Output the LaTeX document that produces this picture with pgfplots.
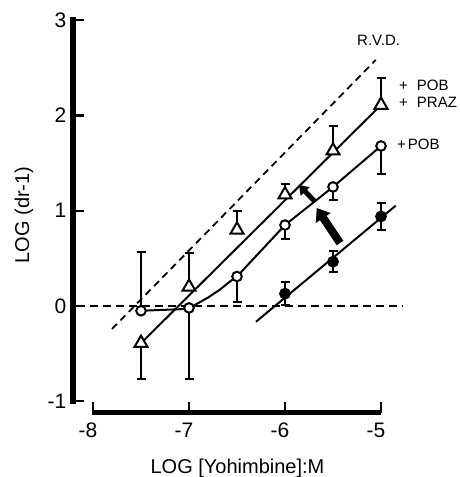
\documentclass[border=0pt]{standalone}
\usepackage{fontspec}
\setmainfont{Liberation Sans}
\usepackage{pgfplots}
\pgfplotsset{compat=1.18}
\usetikzlibrary{arrows.meta}
\begin{document}
\begin{tikzpicture}
\begin{axis}[
  x=96pt, y=95.25pt,
  xmin=-8.21, xmax=-5, ymin=-1.12, ymax=3,
  axis x line*=bottom, axis y line*=left,
  axis line style={draw=none},
  xtick={-8,-7,-6,-5}, xticklabels={-8,-7,-6,-5},
  ytick={-1,0,1,2,3}, yticklabels={-1,0,1,2,3},
  tick align=inside,
  major tick length=11pt,
  tick style={line width=2.2pt, black},
  ticklabel style={font=\fontsize{21}{24}\selectfont},
  xticklabel style={yshift=-7pt, xshift=-5pt},
  yticklabel style={xshift=-3pt},
  clip=false,
]
% axis frame lines
\draw[line width=6.5pt, line cap=rect] (axis cs:-8.21,3) -- (axis cs:-8.21,-0.99);
\draw[line width=5.5pt, line cap=butt] (axis cs:-8.01,-1.12) -- (axis cs:-4.995,-1.12);
% dashed reference lines
\addplot[black, line width=1.8pt, dash pattern=on 8pt off 5pt] coordinates {(-8.167,0) (-4.771,0)};
\addplot[black, line width=1.8pt, dash pattern=on 7pt off 5pt] coordinates {(-7.802,-0.241) (-5.055,2.583)};
% fitted lines
\addplot[black, line width=2pt] coordinates {(-7.5,-0.39) (-5,2.11)};
\addplot[black, line width=2pt] coordinates {(-7.5,-0.05) (-7.0,-0.03) (-6.94,0.01) (-6.8,0.09) (-6.68,0.17) (-6.57,0.26) (-6.5,0.31) (-6,0.85) (-5.5,1.25) (-5,1.68)};
\addplot[black, line width=2pt] coordinates {(-6.302,-0.165) (-4.847,1.053)};
% error bars: triangles (+POB +PRAZ)
\addplot[draw=none, forget plot, error bars/.cd, y dir=plus, y explicit,
  error bar style={draw=black, solid, line width=2pt},
  error mark options={draw=black, rotate=90, line width=2pt, mark size=4.5pt}]
  coordinates {(-7,0.20) +- (0,0.36) (-6.5,0.80) +- (0,0.20) (-6,1.17) +- (0,0.11) (-5.5,1.63) +- (0,0.26) (-5,2.11) +- (0,0.28)};
\addplot[draw=none, forget plot, error bars/.cd, y dir=minus, y explicit,
  error bar style={draw=black, solid, line width=2pt},
  error mark options={draw=black, rotate=90, line width=2pt, mark size=4.5pt}]
  coordinates {(-7.5,-0.39) +- (0,0.38)};
% error bars: open circles (+POB)
\addplot[draw=none, forget plot, error bars/.cd, y dir=plus, y explicit,
  error bar style={draw=black, solid, line width=2pt},
  error mark options={draw=black, rotate=90, line width=2pt, mark size=4.5pt}]
  coordinates {(-7.5,-0.05) +- (0,0.62)};
\addplot[draw=none, forget plot, error bars/.cd, y dir=minus, y explicit,
  error bar style={draw=black, solid, line width=2pt},
  error mark options={draw=black, rotate=90, line width=2pt, mark size=4.5pt}]
  coordinates {(-7,-0.02) +- (0,0.75) (-6.5,0.31) +- (0,0.27) (-6,0.85) +- (0,0.15) (-5.5,1.25) +- (0,0.14) (-5,1.68) +- (0,0.29)};
% error bars: filled circles (control)
\addplot[draw=none, forget plot, error bars/.cd, y dir=both, y explicit,
  error bar style={draw=black, solid, line width=2pt},
  error mark options={draw=black, rotate=90, line width=2pt, mark size=4.5pt}]
  coordinates {(-6,0.13) +- (0,0.12) (-5.5,0.465) +- (0,0.11) (-5,0.94) +- (0,0.145)};
% markers
\addplot[only marks, mark=triangle*, mark size=7.5pt, mark options={fill=white, draw=black, line width=2pt, solid}]
  coordinates {(-7.5,-0.39) (-7,0.20) (-6.5,0.80) (-6,1.17) (-5.5,1.63) (-5,2.11)};
\addplot[only marks, mark=*, mark size=4.8pt, mark options={fill=white, draw=black, line width=2pt, solid}]
  coordinates {(-7.5,-0.05) (-7,-0.02) (-6.5,0.31) (-6,0.85) (-5.5,1.25) (-5,1.68)};
\addplot[only marks, mark=*, mark size=5.5pt, mark options={fill=black, draw=black, line width=0.8pt, solid}]
  coordinates {(-6,0.13) (-5.5,0.465) (-5,0.94)};
% arrows
\draw[line width=5pt, -{Triangle[width=12pt,length=9pt]}] (axis cs:-5.6875,1.095) -- (axis cs:-5.854,1.270);
\draw[line width=8pt, -{Triangle[width=17pt,length=12pt]}] (axis cs:-5.427,0.661) -- (axis cs:-5.670,1.029);
% texts
\node[rotate=90, font=\fontsize{20}{24}\selectfont] at (axis cs:-8.719,0.955) {LOG (dr-1)};
\node[anchor=base, font=\fontsize{20}{24}\selectfont] at (axis cs:-6.495,-1.756) {LOG [Yohimbine]:M};
\node[anchor=base west, inner sep=0pt, font=\fontsize{15}{16}\selectfont] at (axis cs:-5.250,2.740) {R.V.D.};
\node[anchor=base west, inner sep=0pt, font=\fontsize{15}{16}\selectfont] at (axis cs:-4.8125,2.260) {+\hspace{9pt}POB};
\node[anchor=base west, inner sep=0pt, font=\fontsize{15}{16}\selectfont] at (axis cs:-4.8125,2.079) {+\hspace{9pt}PRAZ};
\node[anchor=base west, inner sep=0pt, font=\fontsize{15}{16}\selectfont] at (axis cs:-4.833,1.638) {+\hspace{2pt}POB};
\coordinate (bbA) at (axis cs:-8.96875,3.2126);
\coordinate (bbB) at (axis cs:-4.1875,-1.7953);
\end{axis}
\pgfresetboundingbox
\path[use as bounding box] (bbA) rectangle (bbB);
\end{tikzpicture}
\end{document}
